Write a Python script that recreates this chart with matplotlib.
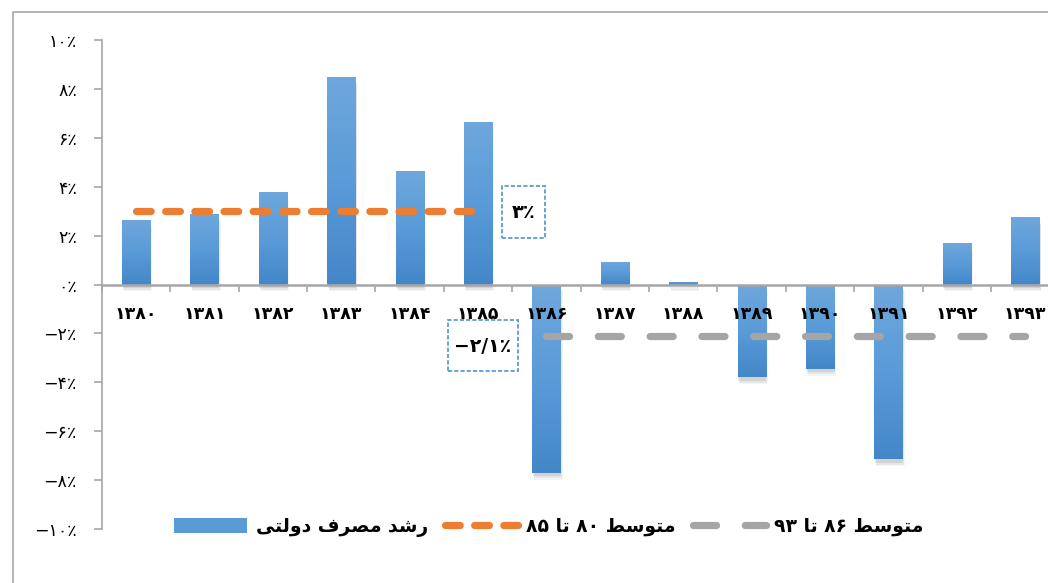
import matplotlib
matplotlib.use('Agg')
import matplotlib.pyplot as plt
import numpy as np
from matplotlib.patches import Rectangle
from matplotlib.lines import Line2D
from matplotlib.colors import LinearSegmentedColormap
import matplotlib.patheffects as pe

plt.rcParams['font.family'] = ['DejaVu Sans']
plt.rcParams['lines.scale_dashes'] = False

# ---------------- data ----------------
years = ['۱۳۸۰', '۱۳۸۱', '۱۳۸۲', '۱۳۸۳', '۱۳۸۴', '۱۳۸۵', '۱۳۸۶',
         '۱۳۸۷', '۱۳۸۸', '۱۳۸۹', '۱۳۹۰', '۱۳۹۱', '۱۳۹۲', '۱۳۹۳']
growth = [2.65, 2.9, 3.8, 8.5, 4.65, 6.65, -7.7,
          0.9, 0.1, -3.8, -3.45, -7.15, 1.7, 2.75]
avg_80_85 = 3.0
avg_86_93 = -2.1
ytick_values = [-10, -8, -6, -4, -2, 0, 2, 4, 6, 8, 10]
ytick_labels = ['−۱۰٪', '−۸٪', '−۶٪', '−۴٪', '−۲٪', '۰٪',
                '۲٪', '۴٪', '۶٪', '۸٪', '۱۰٪']
label_avg1 = '۳٪'
label_avg2 = '−۲/۱٪'
# pre-shaped (visual order) Persian legend labels
leg_growth = '\uFEF0\uFE98\uFEDF\uFEED\uFEA9 \uFED1\uFEAE\uFEBC\uFEE3 \uFEAA\uFEB7\uFEAD'   # رشد مصرف دولتی
leg_avg1 = '۸۵ \uFE8E\uFE97 ۸۰ \uFEC2\uFEB3\uFEEE\uFE98\uFEE3'                           # متوسط ۸۰ تا ۸۵
leg_avg2 = '۹۳ \uFE8E\uFE97 ۸۶ \uFEC2\uFEB3\uFEEE\uFE98\uFEE3'                           # متوسط ۸۶ تا ۹۳

# ---------------- figure ----------------
W, H = 1048, 583
fig = plt.figure(figsize=(W / 100, H / 100), dpi=100)
fig.patch.set_facecolor('white')

# outer chart border (partially visible)
fig.add_artist(Rectangle((13 / W, -0.1), 1.2, (1 - 12 / H) + 0.1, transform=fig.transFigure,
                         fill=False, edgecolor='#a6a6a6', lw=1.2))

ax = fig.add_axes([101.8 / W, 1 - 529 / H, 957.6 / W, 489 / H])
ax.set_facecolor('none')

x = np.arange(len(years))
bar_color = '#5b9bd5'
bars = ax.bar(x, growth, width=0.41, color=bar_color, zorder=2)

# gradient fill + soft shadow
grad = np.linspace(0, 1, 256).reshape(-1, 1)
cmap = LinearSegmentedColormap.from_list('g', ['#6fa7dc', '#5a9bd8', '#4487c9'])
for p in bars:
    bx, by = p.get_x(), p.get_y()
    bw, bh = p.get_width(), p.get_height()
    y0, y1 = min(by, by + bh), max(by, by + bh)
    im = ax.imshow(grad, extent=[bx, bx + bw, y0, y1], origin='upper', cmap=cmap,
                   aspect='auto', zorder=2.1, interpolation='bicubic')
    im.set_clip_path(p)
    p.set_path_effects([
        pe.SimplePatchShadow(offset=(1.5, -5.0), shadow_rgbFace='#000000', alpha=0.04),
        pe.SimplePatchShadow(offset=(1.0, -4.0), shadow_rgbFace='#000000', alpha=0.06),
        pe.SimplePatchShadow(offset=(0.5, -2.5), shadow_rgbFace='#000000', alpha=0.08),
        pe.Normal()])

# average lines
ax.plot([x[0], x[5]], [avg_80_85, avg_80_85], color='#ed7d31', lw=5.2,
        dashes=(10.6, 10.4), dash_capstyle='round', zorder=3)
ax.plot([x[6], x[13]], [avg_86_93, avg_86_93], color='#a5a5a5', lw=5.2,
        dashes=(16.6, 20.7), dash_capstyle='round', zorder=3)

# annotation boxes
ax.add_patch(Rectangle((5.35, 1.92), 0.63, 2.12, fill=False, edgecolor='#5b9bd5',
                       lw=1.3, ls=(0, (3, 1.5)), zorder=4))
ax.text(5.665, 2.95, label_avg1, ha='center', va='center', fontsize=14,
        fontweight='bold', zorder=5)
ax.add_patch(Rectangle((4.56, -3.53), 1.02, 2.08, fill=False, edgecolor='#5b9bd5',
                       lw=1.3, ls=(0, (3, 1.5)), zorder=4))
ax.text(5.07, -2.52, label_avg2, ha='center', va='center', fontsize=13.5,
        fontweight='bold', zorder=5)

# axes styling
ax.set_xlim(-0.5, 13.5)
ax.set_ylim(-10, 10)
for s in ['top', 'right']:
    ax.spines[s].set_visible(False)
ax.spines['left'].set_color('#a6a6a6')
ax.spines['left'].set_linewidth(1.2)
ax.spines['bottom'].set_position(('data', 0))
ax.spines['bottom'].set_color('#a6a6a6')
ax.spines['bottom'].set_linewidth(1.8)
ax.spines['bottom'].set_zorder(2.5)
ax.xaxis.set_zorder(4)

ax.set_yticks(ytick_values, ytick_labels)
ax.tick_params(axis='y', direction='out', length=6, width=1.2, color='#a6a6a6',
               pad=12, labelsize=12.5)

ax.set_xticks(np.arange(-0.5, len(years), 1.0), [''] * (len(years) + 1))
ax.tick_params(axis='x', which='major', direction='out', length=5, width=1.2, color='#a6a6a6')
ax.set_xticks(x, years, minor=True)
ax.tick_params(axis='x', which='minor', length=0, pad=15, labelsize=12.5)
for t in ax.get_xticklabels(minor=True):
    t.set_fontweight('bold')

# legend
handles = [Rectangle((0, 0), 1, 1, facecolor=bar_color, edgecolor='none'),
           Line2D([], [], color='#ed7d31', lw=5.2, dashes=(10.6, 10.4), dash_capstyle='round'),
           Line2D([], [], color='#a5a5a5', lw=5.2, dashes=(16.6, 20.7), dash_capstyle='round')]
leg = fig.legend(handles, [leg_growth, leg_avg1, leg_avg2], loc='center', ncol=3,
                 bbox_to_anchor=(549 / W, 1 - 527 / H), frameon=False,
                 prop={'weight': 'bold', 'size': 13.5}, handlelength=3.9,
                 handleheight=0.8, handletextpad=0.45, columnspacing=0.9)

fig.savefig('out.png', dpi=100)
